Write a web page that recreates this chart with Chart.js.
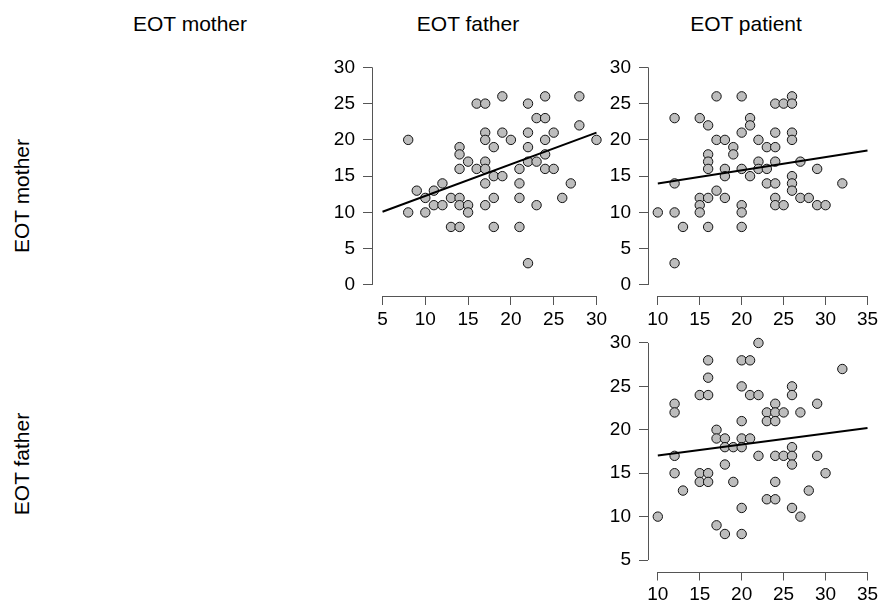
<!DOCTYPE html>
<html>
<head>
<meta charset="utf-8">
<script src="https://cdn.jsdelivr.net/npm/chart.js@4.4.1/dist/chart.umd.min.js"></script>
<style>
  html, body { margin: 0; padding: 0; background: #fff; }
  #page { position: relative; width: 883px; height: 607px; overflow: hidden; font-family: "Liberation Sans", Arial, sans-serif; }
  #page canvas { position: absolute; left: 0; top: 0; }
  .title { position: absolute; font-size: 21px; color: #000; white-space: nowrap; transform: translate(-50%, -50%); }
  .rowlab { position: absolute; font-size: 21px; color: #000; white-space: nowrap; transform: translate(-50%, -50%) rotate(-90deg); }
</style>
</head>
<body>
<div id="page">
  <div class="title" style="left:190px; top:24px;">EOT mother</div>
  <div class="title" style="left:468px; top:24px;">EOT father</div>
  <div class="title" style="left:746px; top:24px;">EOT patient</div>
  <div class="rowlab" style="left:22px; top:196px;">EOT mother</div>
  <div class="rowlab" style="left:22px; top:464px;">EOT father</div>
  <canvas id="c1" width="883" height="607"></canvas>
  <canvas id="c2" width="883" height="607"></canvas>
  <canvas id="c3" width="883" height="607"></canvas>
</div>
<script>
// panel 1: father (x) vs mother (y)
const p1Father = [8, 8, 9, 10, 10, 11, 11, 12, 12, 13, 13, 14, 14, 14, 14, 14, 14, 15, 15, 15,
  16, 16, 17, 17, 17, 17, 17, 17, 17, 18, 18, 18, 18, 19, 19, 19, 20, 21, 21, 21, 21,
  22, 22, 22, 22, 22, 23, 23, 23, 24, 24, 24, 24, 24, 25, 25, 26, 27, 28, 28, 30];
const p1Mother = [20, 10, 13, 12, 10, 13, 11, 14, 11, 12, 8, 19, 18, 16, 12, 11, 8, 17, 11, 10,
  25, 16, 25, 21, 20, 17, 16, 14, 11, 19, 15, 12, 8, 26, 21, 15, 20, 16, 14, 12, 8,
  25, 21, 19, 17, 3, 23, 17, 11, 26, 23, 20, 18, 16, 21, 16, 12, 14, 26, 22, 20];
const fit1X = [5, 30];
const fit1Y = [10.1, 21.0];

// panel 2: patient (x) vs mother (y)
const p2Patient = [10, 12, 12, 12, 12, 13, 15, 15, 15, 15, 16, 16, 16, 16, 16, 16, 17, 17, 17,
  18, 18, 18, 18, 19, 19, 20, 20, 20, 20, 20, 20, 21, 21, 21, 22, 22, 22, 23, 23, 23,
  24, 24, 24, 24, 24, 24, 24, 25, 25, 26, 26, 26, 26, 26, 26, 26, 27, 27, 28, 29, 29, 30, 32];
const p2Mother = [10, 23, 14, 10, 3, 8, 23, 12, 11, 10, 22, 18, 17, 16, 12, 8, 26, 20, 13,
  20, 16, 15, 12, 19, 18, 26, 21, 16, 11, 10, 8, 23, 22, 15, 20, 17, 16, 19, 16, 14,
  25, 21, 19, 17, 14, 12, 11, 25, 11, 26, 25, 21, 20, 15, 14, 13, 17, 12, 12, 16, 11, 11, 14];
const fit2X = [10, 35];
const fit2Y = [14.0, 18.55];

// panel 3: patient (x) vs father (y)
const p3Patient = [10, 12, 12, 12, 12, 13, 15, 15, 15, 16, 16, 16, 16, 16, 17, 17, 17,
  18, 18, 18, 18, 19, 19, 20, 20, 20, 20, 20, 20, 20, 21, 21, 21, 22, 22, 22, 23, 23, 23,
  24, 24, 24, 24, 24, 24, 25, 25, 26, 26, 26, 26, 26, 26, 27, 27, 28, 29, 29, 30, 32];
const p3Father = [10, 23, 22, 17, 15, 13, 24, 15, 14, 28, 26, 24, 15, 14, 20, 19, 9,
  19, 18, 16, 8, 18, 14, 28, 25, 21, 19, 18, 11, 8, 28, 24, 19, 30, 24, 17, 22, 21, 12,
  23, 22, 21, 17, 14, 12, 22, 17, 25, 24, 18, 17, 16, 11, 22, 10, 13, 23, 17, 15, 27];
const fit3X = [10, 35];
const fit3Y = [17.05, 20.2];

const ticks1X = [5, 10, 15, 20, 25, 30];
const ticks1Y = [0, 5, 10, 15, 20, 25, 30];
const ticks2X = [10, 15, 20, 25, 30, 35];
const ticks2Y = [0, 5, 10, 15, 20, 25, 30];
const ticks3X = [10, 15, 20, 25, 30, 35];
const ticks3Y = [5, 10, 15, 20, 25, 30];

const FONT = { family: '"Liberation Sans", Arial, sans-serif', size: 19 };
const AXIS_COLOR = '#555';

// R style axes: line only from first to last tick
const rAxes = {
  id: 'rAxes',
  afterDraw(chart) {
    const ctx = chart.ctx, a = chart.chartArea;
    const xs = chart.scales.x, ys = chart.scales.y;
    const xa = xs.getPixelForValue(xs.ticks[0].value);
    const xb = xs.getPixelForValue(xs.ticks[xs.ticks.length - 1].value);
    const ya = ys.getPixelForValue(ys.ticks[0].value);
    const yb = ys.getPixelForValue(ys.ticks[ys.ticks.length - 1].value);
    const bx = Math.round(a.bottom) + 0.5;
    const ly = Math.round(a.left) + 0.5;
    ctx.save();
    ctx.strokeStyle = AXIS_COLOR;
    ctx.lineWidth = 1;
    ctx.beginPath();
    ctx.moveTo(xa, bx); ctx.lineTo(xb, bx);
    ctx.moveTo(ly, ya); ctx.lineTo(ly, yb);
    ctx.stroke();
    ctx.restore();
  }
};

function toPoints(xs, ys) {
  return xs.map((x, i) => ({ x: x, y: ys[i] }));
}

function makePanel(id, xv, yv, fx, fy, tx, ty, area, lim) {
  const YW = 50, XH = 30;
  new Chart(document.getElementById(id), {
    type: 'scatter',
    data: {
      datasets: [
        {
          type: 'line',
          data: toPoints(fx, fy),
          borderColor: '#000',
          borderWidth: 2,
          pointRadius: 0,
          fill: false,
          clip: false
        },
        {
          data: toPoints(xv, yv),
          backgroundColor: '#BDBDBD',
          borderColor: '#111',
          borderWidth: 1,
          pointRadius: 4.7,
          clip: false
        }
      ]
    },
    options: {
      responsive: false,
      animation: false,
      layout: {
        padding: {
          left: area.left - YW,
          right: 883 - area.right,
          top: area.top,
          bottom: 607 - area.bottom - XH
        }
      },
      plugins: { legend: { display: false }, tooltip: { enabled: false } },
      scales: {
        x: {
          type: 'linear',
          min: lim[0], max: lim[1],
          afterBuildTicks: s => { s.ticks = tx.map(v => ({ value: v })); },
          afterFit: s => { s.height = XH; },
          grid: { drawOnChartArea: false, drawTicks: true, tickLength: 9, color: AXIS_COLOR },
          border: { display: false },
          ticks: { autoSkip: false, maxRotation: 0, padding: 3, color: '#000', font: FONT }
        },
        y: {
          type: 'linear',
          min: lim[2], max: lim[3],
          afterBuildTicks: s => { s.ticks = ty.map(v => ({ value: v })); },
          afterFit: s => { s.width = YW; },
          grid: { drawOnChartArea: false, drawTicks: true, tickLength: 9, color: AXIS_COLOR },
          border: { display: false },
          ticks: { autoSkip: false, padding: 8, color: '#000', font: FONT }
        }
      }
    },
    plugins: [rAxes]
  });
}

makePanel('c1', p1Father, p1Mother, fit1X, fit1Y, ticks1X, ticks1Y,
  { left: 372, right: 607, top: 55, bottom: 296 }, [3.77, 31.23, -1.52, 31.7]);
makePanel('c2', p2Patient, p2Mother, fit2X, fit2Y, ticks2X, ticks2Y,
  { left: 648, right: 882, top: 55, bottom: 296 }, [8.83, 36.17, -1.52, 31.7]);
makePanel('c3', p3Patient, p3Father, fit3X, fit3Y, ticks3X, ticks3Y,
  { left: 648, right: 882, top: 331.5, bottom: 571.5 }, [8.83, 36.17, 3.68, 31.32]);
</script>
</body>
</html>
